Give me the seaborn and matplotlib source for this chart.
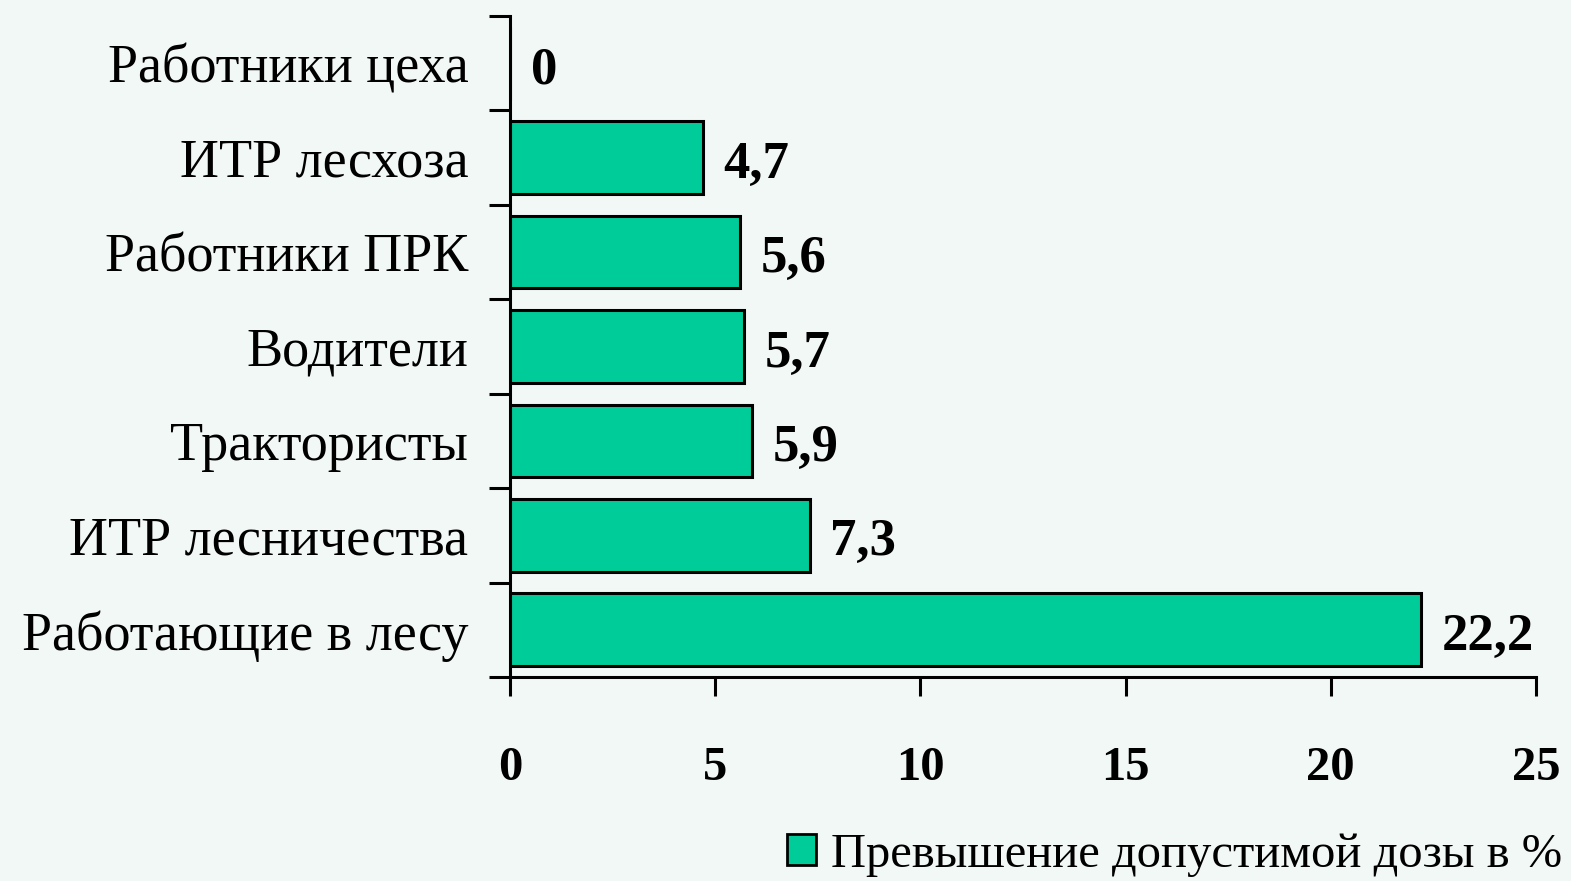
import matplotlib
matplotlib.use("Agg")
import matplotlib.pyplot as plt
import seaborn as sns
import pandas as pd
import numpy as np
from matplotlib.patches import Patch

categories = ["Работники цеха", "ИТР лесхоза", "Работники ПРК", "Водители",
              "Трактористы", "ИТР лесничества", "Работающие в лесу"]
values = [0, 4.7, 5.6, 5.7, 5.9, 7.3, 22.2]
series_name = "Превышение допустимой дозы в %"
xticks = [0, 5, 10, 15, 20, 25]

df = pd.DataFrame({"cat": categories, "val": values})

sns.set_style("white")
plt.rcParams["font.family"] = ["Liberation Serif", "DejaVu Serif"]
plt.rcParams["text.color"] = "black"
plt.rcParams["xtick.color"] = "black"
plt.rcParams["ytick.color"] = "black"

bg = "#F2F8F6"
bar_color = "#00CC99"

fig = plt.figure(figsize=(15.71, 8.81), dpi=100, facecolor=bg)
ax = fig.add_axes([0.3246, 0.2315, 0.6531, 0.7503])
ax.set_facecolor(bg)

sns.barplot(data=df, x="val", y="cat", orient="h", order=categories,
            color=bar_color, saturation=1, width=0.77,
            edgecolor="black", linewidth=2.2, ax=ax)

ax.set_xlim(0, 25)
ax.set_ylim(len(categories) - 0.5, -0.5)
ax.set_xticks(xticks)
ax.set_xticklabels([str(t) for t in xticks], fontsize=35, fontweight="bold",
                   color="black")
ax.tick_params(axis="x", which="major", bottom=True, direction="out", length=14,
               width=2.2, pad=36, color="black", labelcolor="black")

ax.set_yticks(range(len(categories)))
ax.set_yticklabels(categories, fontsize=39, color="black")
ax.set_yticks(np.arange(-0.5, len(categories), 1.0), minor=True)
ax.tick_params(axis="y", which="major", left=True, length=0, pad=30,
               labelcolor="black")
ax.tick_params(axis="y", which="minor", left=True, direction="out", length=15,
               width=2.2, color="black")

ax.set_xlabel("")
ax.set_ylabel("")
for side in ["top", "right"]:
    ax.spines[side].set_visible(False)
for side in ["left", "bottom"]:
    ax.spines[side].set_linewidth(2.2)
    ax.spines[side].set_color("black")

labels = [f"{v:g}".replace(".", ",") for v in values]
texts = ax.bar_label(ax.containers[0], labels=labels, padding=15,
                     fontsize=38, fontweight="bold", color="black")
for t in texts:
    x, y = t.xyann
    t.xyann = (x, y - 5)

handle = Patch(facecolor=bar_color, edgecolor="black", linewidth=2)
fig.legend([handle], [series_name], loc="lower right",
           bbox_to_anchor=(1.022, -0.045), frameon=False, fontsize=35,
           handlelength=0.6, handleheight=0.6, handletextpad=0.3,
           labelcolor="black")

fig.savefig("out.png", dpi=100, facecolor=bg)
